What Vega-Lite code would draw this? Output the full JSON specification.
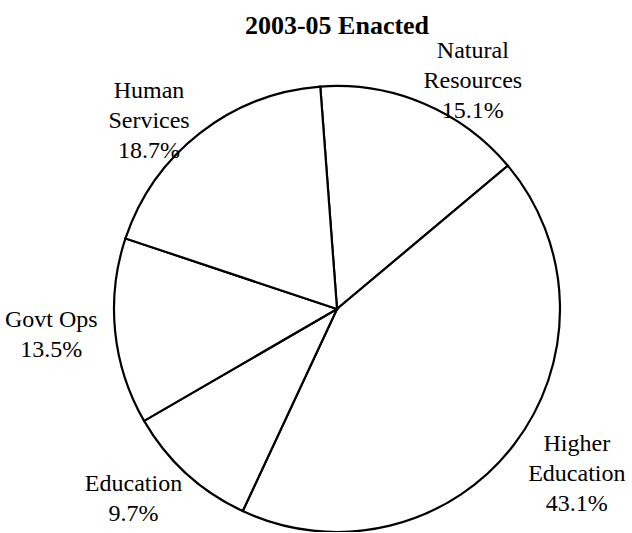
{
  "$schema": "https://vega.github.io/schema/vega-lite/v6.json",
  "width": 674,
  "height": 446,
  "autosize": {"type": "none"},
  "padding": {"left": 0, "top": 86, "right": 0, "bottom": 0},
  "background": "white",
  "title": {
    "text": "2003-05 Enacted",
    "font": "Liberation Serif",
    "fontSize": 26,
    "fontWeight": "bold",
    "color": "black",
    "anchor": "middle",
    "frame": "group",
    "offset": -4,
    "dy": -4
  },
  "data": {
    "values": [
      {"category": "Natural Resources", "label": ["Natural", "Resources", "15.1%"], "percent": 15.1, "order": 1},
      {"category": "Higher Education", "label": ["Higher", "Education", "43.1%"], "percent": 43.1, "order": 2},
      {"category": "Education", "label": ["Education", "9.7%"], "percent": 9.7, "order": 3},
      {"category": "Govt Ops", "label": ["Govt Ops", "13.5%"], "percent": 13.5, "order": 4},
      {"category": "Human Services", "label": ["Human", "Services", "18.7%"], "percent": 18.7, "order": 5}
    ]
  },
  "encoding": {
    "theta": {"field": "percent", "type": "quantitative", "stack": true, "scale": {"range": [-0.075, 6.2082]}},
    "order": {"field": "order", "type": "quantitative"}
  },
  "layer": [
    {"mark": {"type": "arc", "outerRadius": 223, "fill": "white", "stroke": "black", "strokeWidth": 2.2}},
    {
      "mark": {"type": "text", "radius": 257, "dx": 36, "dy": -21, "font": "Liberation Serif", "fontSize": 24, "lineHeight": 30, "color": "black", "baseline": "middle"},
      "encoding": {"text": {"condition": {"test": "datum.order <= 2", "field": "label"}, "value": ""}}
    },
    {
      "mark": {"type": "text", "radius": 257, "dx": -30, "dy": -15, "font": "Liberation Serif", "fontSize": 24, "lineHeight": 30, "color": "black", "baseline": "middle"},
      "encoding": {"text": {"condition": {"test": "datum.order > 2", "field": "label"}, "value": ""}}
    }
  ],
  "config": {"view": {"stroke": null}}
}
